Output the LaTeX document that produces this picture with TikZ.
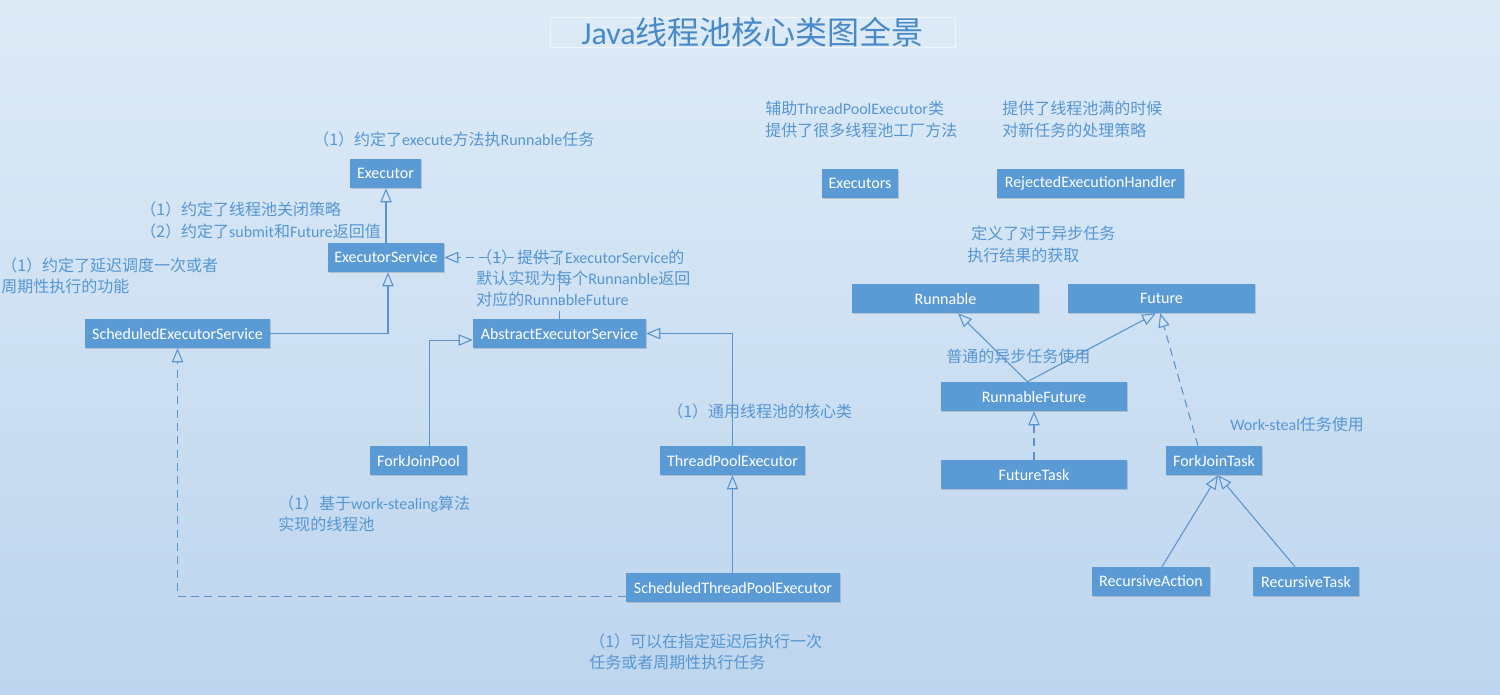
\documentclass[tikz,border=0pt]{standalone}
\usepackage{fontspec}
\setmainfont{Carlito}
\newfontfamily\cjk{Noto Sans CJK SC}
\usetikzlibrary{arrows.meta,shadows}

\definecolor{bgtop}{RGB}{222,235,247}
\definecolor{bgbot}{RGB}{189,213,238}
\definecolor{boxblue}{RGB}{91,155,213}
\definecolor{lineblue}{RGB}{88,148,208}
\definecolor{txtblue}{RGB}{86,150,210}
\definecolor{titleblue}{RGB}{72,138,200}

\tikzset{
  cls/.style={fill=boxblue, text=white, font=\fontsize{12}{13}\selectfont,
    minimum width=#1*0.75pt, minimum height=21.75pt, inner sep=0pt,
    drop shadow={shadow xshift=1.1pt, shadow yshift=-1.1pt, opacity=0.22, fill=black!70}},
  lbl/.style={text=txtblue, font=\fontsize{12}{16}\selectfont, align=left,
    inner sep=0pt, anchor=west},
  inh/.style={draw=lineblue, line width=0.8pt, -{Triangle[open, length=10.5pt, width=8.5pt]}},
  impl/.style={inh, dash pattern=on 6pt off 4pt},
}

\begin{document}
\begin{tikzpicture}[x=0.75pt, y=-0.75pt]
\useasboundingbox (0,0) rectangle (1500,694);
\shade[top color=bgtop, bottom color=bgbot] (0,0) rectangle (1500,694);

% title
\node[draw=white, draw opacity=0.55, line width=0.6pt, text=titleblue,
      font=\fontsize{24}{28}\selectfont, minimum width=303.75pt, minimum height=21.75pt,
      inner sep=0pt] (title) at (752.5,32.5) {Java{\cjk 线程池核心类图全景}};

% classes
\node[cls=71]  (ex)   at (385.5,173.5) {Executor};
\node[cls=116] (es)   at (386,257.5)   {ExecutorService};
\node[cls=185] (ses)  at (177.5,333.5) {ScheduledExecutorService};
\node[cls=173] (aes)  at (559.5,333.5) {AbstractExecutorService};
\node[cls=97]  (fjp)  at (418.5,460.5) {ForkJoinPool};
\node[cls=145] (tpe)  at (732.5,460.5) {ThreadPoolExecutor};
\node[cls=214] (stpe) at (733,587.5)   {ScheduledThreadPoolExecutor};
\node[cls=76]  (exs)  at (860,183.5)   {Executors};
\node[cls=187] (reh)  at (1090.5,183.5){RejectedExecutionHandler};
\node[cls=187] (run)  at (945.5,298.5) {Runnable};
\node[cls=187] (fut)  at (1161.5,298.5){Future};
\node[cls=186] (rf)   at (1034,396.5)  {RunnableFuture};
\node[cls=186] (ft)   at (1034,474.5)  {FutureTask};
\node[cls=96]  (fjt)  at (1214,460.5)  {ForkJoinTask};
\node[cls=118] (ra)   at (1151,581.5)  {RecursiveAction};
\node[cls=106] (rt)   at (1306,581.5)  {RecursiveTask};

% labels
\node[lbl] (l1) at (313,139) {{\cjk （1）约定了}execute{\cjk 方法执}Runnable{\cjk 任务}};
\node[lbl] (l2) at (140,220.5) {{\cjk （1）约定了线程池关闭策略}\\{\cjk （2）约定了}submit{\cjk 和}Future{\cjk 返回值}};
\node[lbl] (l3) at (1,276) {{\cjk （1）约定了延迟调度一次或者}\\{\cjk 周期性执行的功能}};
\node[lbl] (l5) at (667,411) {{\cjk （1）通用线程池的核心类}};
\node[lbl] (l6) at (278,514) {{\cjk （1）基于}work-stealing{\cjk 算法}\\{\cjk 实现的线程池}};
\node[lbl] (l7) at (589,652) {{\cjk （1）可以在指定延迟后执行一次}\\{\cjk 任务或者周期性执行任务}};
\node[lbl] (l8) at (765,119.5) {{\cjk 辅助}ThreadPoolExecutor{\cjk 类}\\{\cjk 提供了很多线程池工厂方法}};
\node[lbl] (l9) at (1002,119.5) {{\cjk 提供了线程池满的时候}\\{\cjk 对新任务的处理策略}};
\node[lbl] (l10) at (967,244.5) {\hspace*{3pt}{\cjk 定义了对于异步任务}\\{\cjk 执行结果的获取}};
\node[lbl] (l11) at (946,356) {{\cjk 普通的异步任务使用}};
\node[lbl] (l12) at (1230,424) {Work-steal{\cjk 任务使用}};

% connectors
\draw[inh] (es.north) -- (es.north |- ex.south);
\draw[inh] (ses.east) -| ([xshift=1.5pt]es.south);
\draw[impl] (aes.north) |- (es.east);
\draw[inh] ([xshift=7.9pt]fjp.north) |- ([yshift=-4.9pt]aes.west);
\draw[inh] (tpe.north) |- (aes.east);
\draw[inh] (stpe.north -| tpe.south) -- (tpe.south);
\draw[impl] ([yshift=-6.4pt]stpe.west) -| (ses.south);
\coordinate (rftop) at ([xshift=-5pt]rf.north);
\draw[inh] (rftop) -- ([xshift=9.4pt]run.south);
\draw[inh] (rftop) -- ([xshift=-4.1pt]fut.south);
\draw[impl] ([xshift=-12pt]fjt.north) -- ([xshift=-1pt]fut.south);
\draw[impl] (ft.north) -- (rf.south);
\draw[inh] ([xshift=8.25pt]ra.north) -- ([xshift=3pt]fjt.south);
\draw[inh] ([xshift=-8.25pt]rt.north) -- ([xshift=3pt]fjt.south);

% text over the dashed connector
\node[lbl] (l4) at (476,278.5) {{\cjk （1）提供了}ExecutorService{\cjk 的}\\{\cjk 默认实现为每个}Runnanble{\cjk 返回}\\{\cjk 对应的}RunnableFuture};
\end{tikzpicture}
\end{document}
